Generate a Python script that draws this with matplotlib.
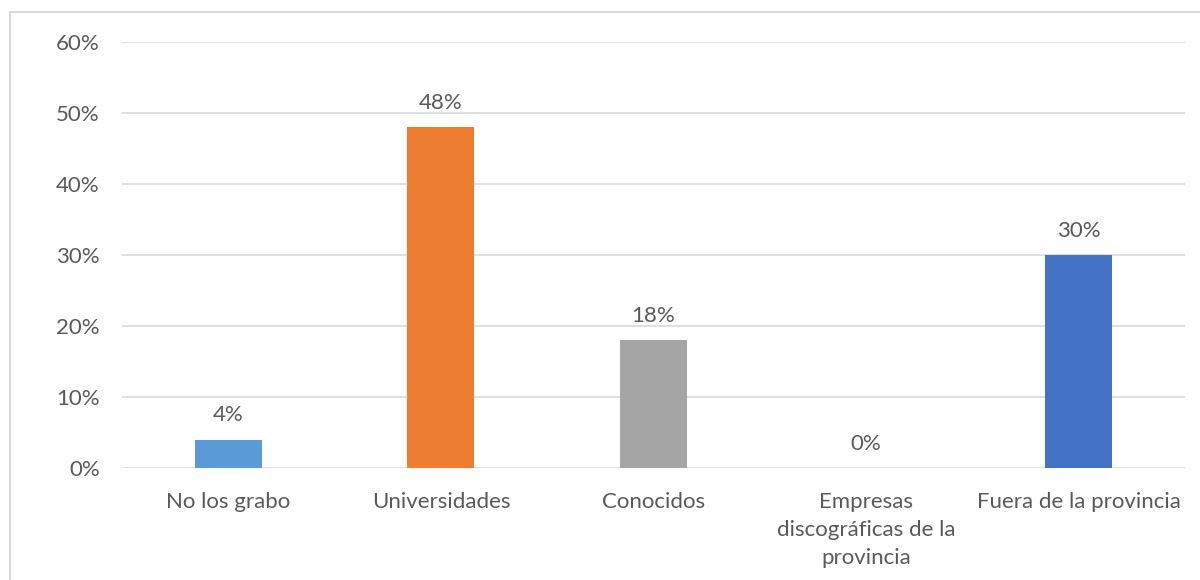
import matplotlib
matplotlib.use("Agg")
import matplotlib.pyplot as plt
from matplotlib.lines import Line2D

categories = ["No los grabo", "Universidades", "Conocidos",
              "Empresas\ndiscográficas de la\nprovincia", "Fuera de la provincia"]
values = [0.04, 0.48, 0.18, 0.00, 0.30]
colors = ["#5B9BD5", "#ED7D31", "#A5A5A5", "#FFC000", "#4472C4"]
yticks = [0.0, 0.1, 0.2, 0.3, 0.4, 0.5, 0.6]
ytick_labels = ["0%", "10%", "20%", "30%", "40%", "50%", "60%"]

plt.rcParams["font.family"] = ["Lato", "DejaVu Sans"]
text_color = "#595959"
grid_color = "#D9D9D9"
fs = 16

fig = plt.figure(figsize=(12, 5.8), dpi=100)
ax = fig.add_axes([122 / 1200, 112 / 580, 1063 / 1200, 426 / 580])

x = list(range(len(categories)))
bars = ax.bar(x, values, width=0.315, color=colors, zorder=3)

for xi, v in zip(x, values):
    ax.text(xi, v + 0.02, f"{round(v * 100):d}%", ha="center", va="bottom",
            fontsize=fs, color=text_color)

ax.set_xlim(-0.5, len(categories) - 0.5)
ax.set_ylim(0, 0.6)
ax.set_yticks(yticks)
ax.set_yticklabels(ytick_labels, fontsize=fs, color=text_color)
ax.set_xticks(x)
ax.set_xticklabels(categories, fontsize=fs, color=text_color, linespacing=1.5,
                   va="top")
ax.tick_params(axis="both", length=0)
ax.tick_params(axis="y", pad=16)
ax.tick_params(axis="x", pad=17)
ax.grid(axis="y", color=grid_color, linewidth=1.2, zorder=0)
for s in ax.spines.values():
    s.set_visible(False)

# outer chart frame (left and top edges)
fig.add_artist(Line2D([10 / 1200, 10 / 1200], [0, 1 - 12 / 580],
                      transform=fig.transFigure, color=grid_color, linewidth=1.5))
fig.add_artist(Line2D([10 / 1200, 1], [1 - 12 / 580, 1 - 12 / 580],
                      transform=fig.transFigure, color=grid_color, linewidth=1.5))

fig.savefig("out.png", dpi=100)
